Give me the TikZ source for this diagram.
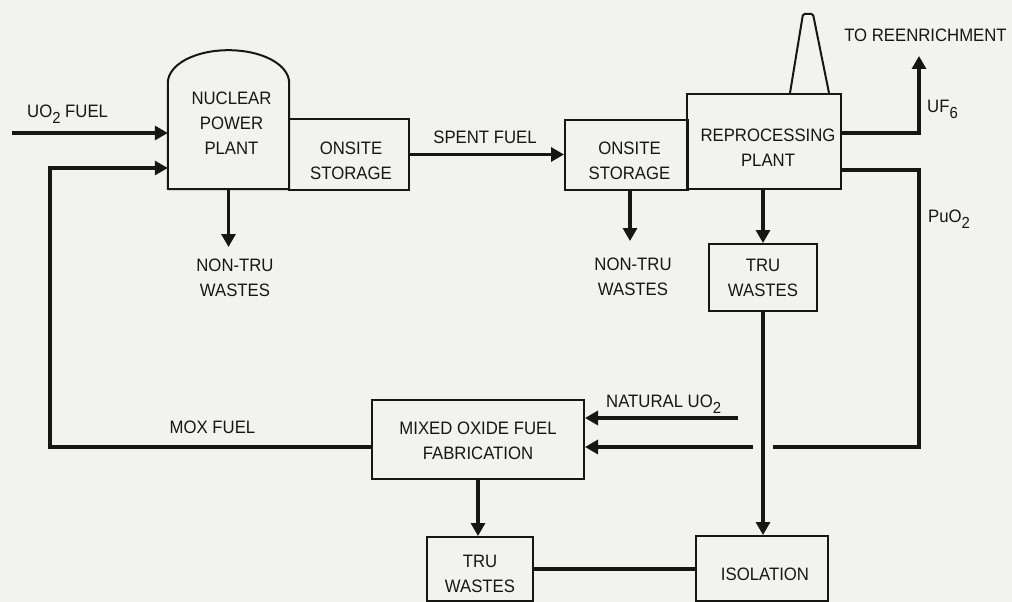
\documentclass[tikz,border=0pt]{standalone}
\usepackage{fontspec}
\setmainfont{Liberation Sans}[FakeStretch=0.93]
\usetikzlibrary{arrows.meta,calc}
\definecolor{ink}{HTML}{161616}
\definecolor{paper}{HTML}{F2F2EF}
% lowered index digit, as in UO2 or UF6
\newcommand\lowidx[1]{\raisebox{-6.5pt}{\fontsize{16}{16}\selectfont #1}}

\begin{document}
\begin{tikzpicture}[x=1pt,y=-1pt,
  font=\fontsize{18}{25}\selectfont, text=ink,
  box/.style={draw=ink, line width=2pt, inner sep=0pt},
  lbl/.style={inner sep=0pt, align=center, text=ink},
  flow/.style={draw=ink, line width=3.1pt},
  feed/.style={flow, -{Triangle[length=13pt,width=14pt]}}]

\fill[paper] (0,0) rectangle (1012,602);
\useasboundingbox (0,0) rectangle (1012,602);

% ---- process units ----
\node[inner sep=0pt, minimum width=121pt, minimum height=106pt,
      label={[lbl,yshift=12.5pt,xshift=3pt]center:NUCLEAR\\POWER\\PLANT}] (npp) at (228.5,136) {};
% reactor building outline with its dome
\draw[ink, line width=2pt, line join=round]
  ($(npp.south west)+(0,-106)$) -- (npp.south west) -- (npp.south east) -- ($(npp.south east)+(0,-106)$)
  .. controls ($(npp.south east)+(0,-124.8)$) and ($(npp.south)+(33.4,-139)$) .. ($(npp.south)+(0,-139)$)
  .. controls ($(npp.south)+(-33.4,-139)$) and ($(npp.south west)+(0,-124.8)$) .. ($(npp.south west)+(0,-106)$);

\node[box, minimum width=120pt, minimum height=71pt,
      label={[lbl,yshift=-6pt,xshift=2pt]center:ONSITE\\STORAGE}] (os1) at (349,154.5) {};
\node[box, minimum width=123pt, minimum height=70pt,
      label={[lbl,yshift=-6pt,xshift=3pt]center:ONSITE\\STORAGE}] (os2) at (626.5,155) {};
\node[box, minimum width=154pt, minimum height=95pt,
      label={[lbl,yshift=-6.5pt,xshift=4pt]center:REPROCESSING\\PLANT}] (rep) at (764,141.5) {};
% stack on the reprocessing plant
\draw[ink, line width=2pt, rounded corners=1.5pt]
  ($(rep.north)+(26,0)$) -- ($(rep.north)+(39,-79)$) -- ($(rep.north)+(49,-79)$) -- ($(rep.north)+(65,0)$);

\node[box, minimum width=108pt, minimum height=67pt,
      label={[lbl]center:TRU\\WASTES}] (tru1) at (763,277.5) {};
\node[box, minimum width=212pt, minimum height=79pt,
      label={[lbl,yshift=-1pt]center:MIXED OXIDE FUEL\\FABRICATION}] (mox) at (478,439.5) {};
\node[box, minimum width=106pt, minimum height=64pt,
      label={[lbl,yshift=-5pt]center:TRU\\WASTES}] (tru2) at (480,569) {};
\node[box, minimum width=132pt, minimum height=65pt,
      label={[lbl,yshift=-5.5pt,xshift=3pt]center:ISOLATION}] (iso) at (762,568.5) {};

% ---- free ends of the flows ----
\coordinate (uoin) at (12,133);
\coordinate (moxbend) at (50,447);
\coordinate (nppout) at (228.5,247);
\coordinate (os2out) at (630,241);
\coordinate (enr) at (919,56);
\coordinate (pubend) at (919,447);
\coordinate (gapR) at (773,447);
\coordinate (gapL) at (753,447);
\coordinate (natin) at (738,418);

% ---- flows ----
\draw[feed] (uoin) -- (uoin -| npp.west);
\draw[feed] ([yshift=-7.5pt]mox.west) -- (moxbend) |- ([yshift=-32pt]npp.west);
\draw[feed] (os1.east) -- (os1.east -| os2.west);
\draw[feed] (npp.south) -- (nppout);
\draw[feed] (os2out |- os2.south) -- (os2out);
\draw[feed] (rep.south -| tru1.north) -- (tru1.north);
\draw[feed] (tru1.south) -- (tru1.south |- iso.north);
\draw[feed] (mox.south) -- (mox.south |- tru2.north);
\draw[flow] (tru2.east) -- (tru2.east -| iso.west);
\draw[feed, line join=miter] ([yshift=8.5pt]rep.east) -| (enr);
\draw[flow, line join=miter] ([yshift=-28.5pt]rep.east) -| (pubend) -- (gapR);
\draw[feed] (gapL) -- (gapL -| mox.east);
\draw[feed] (natin) -- (natin -| mox.east);

% ---- stream labels ----
\node[lbl, anchor=base west] (tUO) at (27,117) {UO\lowidx{2} FUEL};
\node[lbl, anchor=base] (tSpent) at (485,143) {SPENT FUEL};
\node[lbl] (tNon1) at (235,277.5) {NON-TRU\\WASTES};
\node[lbl] (tNon2) at (633,277) {NON-TRU\\WASTES};
\node[lbl, anchor=base] (tEnr) at (925.5,42) {TO REENRICHMENT};
\node[lbl, anchor=base west] (tUF) at (927,112) {UF\lowidx{6}};
\node[lbl, anchor=base west] (tPu) at (928,222) {PuO\lowidx{2}};
\node[lbl, anchor=base west] (tNat) at (606,407) {NATURAL UO\lowidx{2}};
\node[lbl, anchor=base] (tMox) at (212.5,433) {MOX FUEL};
\end{tikzpicture}
\end{document}
